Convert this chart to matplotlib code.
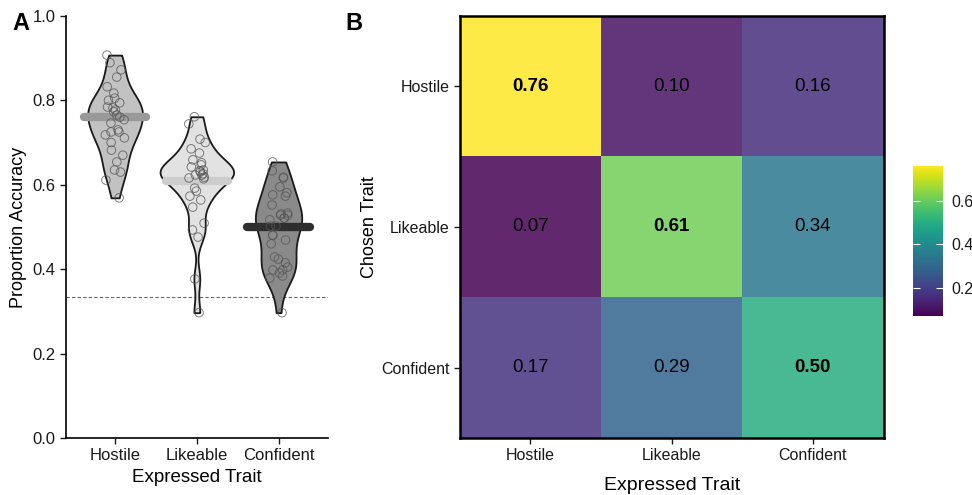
import numpy as np
import matplotlib
matplotlib.use("Agg")
import matplotlib.pyplot as plt

plt.rcParams['font.family'] = ['Liberation Sans', 'DejaVu Sans']

traits = ["Hostile", "Likeable", "Confident"]

# per-participant accuracy for each expressed trait
hostile_acc = [0.907, 0.889, 0.872, 0.855, 0.832, 0.817, 0.805, 0.800, 0.794, 0.784,
               0.782, 0.777, 0.773, 0.765, 0.760, 0.754, 0.746, 0.730, 0.725, 0.725,
               0.718, 0.711, 0.700, 0.682, 0.670, 0.654, 0.635, 0.630, 0.611, 0.569]
likeable_acc = [0.761, 0.744, 0.708, 0.700, 0.685, 0.675, 0.659, 0.652, 0.647, 0.642,
                0.635, 0.633, 0.630, 0.626, 0.623, 0.623, 0.618, 0.616, 0.614, 0.592,
                0.585, 0.573, 0.564, 0.547, 0.509, 0.493, 0.476, 0.377, 0.297]
confident_acc = [0.654, 0.633, 0.618, 0.616, 0.595, 0.581, 0.576, 0.573, 0.552, 0.533,
                 0.531, 0.528, 0.528, 0.521, 0.521, 0.517, 0.502, 0.502, 0.481, 0.480,
                 0.469, 0.460, 0.429, 0.424, 0.415, 0.405, 0.398, 0.398, 0.391, 0.384,
                 0.379, 0.297]

# confusion matrix: rows = chosen trait, columns = expressed trait
confusion = [[0.76, 0.10, 0.16],
             [0.07, 0.61, 0.34],
             [0.17, 0.29, 0.50]]

chance = 1 / 3

fill_cols = ["#c2c2c2", "#e2e2e2", "#8a8a8a"]
mean_cols = ["#999999", "#cdcdcd", "#2e2e2e"]


def kde(x, grid):
    x = np.asarray(x)
    n = len(x)
    iqr = np.subtract(*np.percentile(x, [75, 25]))
    bw = 0.9 * min(np.std(x, ddof=1), iqr / 1.34) * n ** -0.2
    d = np.exp(-0.5 * ((grid[:, None] - x[None, :]) / bw) ** 2).sum(axis=1)
    return d / (n * bw * np.sqrt(2 * np.pi))


fig = plt.figure(figsize=(9.72, 4.95), dpi=100)
axA = fig.add_axes([0.068, 0.115, 0.269, 0.853])
axB = fig.add_axes([0.473, 0.115, 0.436, 0.853])
cax = fig.add_axes([0.939, 0.362, 0.031, 0.303])

# ---- panel A: violins + jittered points + mean bar
groups = [hostile_acc, likeable_acc, confident_acc]
dens = []
for vals in groups:
    g = np.linspace(min(vals), max(vals), 200)
    dens.append((g, kde(vals, g)))
scale = 0.45 / max(d.max() for _, d in dens)

rng = np.random.default_rng(3)
for i, (vals, (g, d)) in enumerate(zip(groups, dens)):
    pos = i + 1
    w = d * scale
    axA.fill_betweenx(g, pos - w, pos + w, facecolor=fill_cols[i],
                      edgecolor="#1a1a1a", linewidth=1.3, zorder=2)
    xj = pos + rng.uniform(-0.12, 0.12, len(vals))
    axA.scatter(xj, vals, s=38, facecolors="none", edgecolors="#555555",
                linewidths=0.7, alpha=0.75, zorder=4)
    axA.hlines(confusion[i][i], pos - 0.38, pos + 0.38, color=mean_cols[i],
               linewidth=6, capstyle="round", zorder=3)

axA.axhline(chance, color="#666666", linestyle=(0, (3, 2)), linewidth=0.8, zorder=1)
axA.set_xlim(0.4, 3.6)
axA.set_ylim(0, 1.0)
axA.set_xticks([1, 2, 3])
axA.set_xticklabels(traits)
axA.set_yticks([0, 0.2, 0.4, 0.6, 0.8, 1.0])
axA.set_yticklabels(["0.0", "0.2", "0.4", "0.6", "0.8", "1.0"])
axA.spines[["top", "right"]].set_visible(False)
for s in ["left", "bottom"]:
    axA.spines[s].set_linewidth(1.2)
axA.tick_params(labelsize=12, length=4, width=1, colors="#1a1a1a")
axA.set_ylabel("Proportion Accuracy", fontsize=13)
axA.set_xlabel("Expressed Trait", fontsize=13.5)

# ---- panel B: heatmap
cm = np.array(confusion)
im = axB.imshow(cm, cmap="viridis", vmin=cm.min(), vmax=cm.max(),
                aspect="auto", extent=[0.5, 3.5, 3.5, 0.5], alpha=0.85)
for r in range(3):
    for c in range(3):
        axB.text(c + 1, r + 1, f"{cm[r, c]:.2f}", ha="center", va="center",
                 fontsize=13.5, color="black",
                 fontweight="bold" if r == c else "normal")
axB.set_xticks([1, 2, 3])
axB.set_xticklabels(traits)
axB.set_yticks([1, 2, 3])
axB.set_yticklabels(traits)
for s in axB.spines.values():
    s.set_linewidth(1.8)
axB.tick_params(labelsize=11.5, length=4, width=1, colors="#1a1a1a")
axB.set_xlabel("Expressed Trait", fontsize=14, labelpad=10)
axB.set_ylabel("Chosen Trait", fontsize=13, labelpad=2)

cb = fig.colorbar(im, cax=cax, ticks=[0.2, 0.4, 0.6])
cb.solids.set_alpha(1)
cb.outline.set_visible(False)
cax.tick_params(direction="in", length=5, width=0.8, color="white",
                left=True, right=True, labelsize=11.5, labelcolor="#1a1a1a", pad=6)

fig.text(0.013, 0.952, "A", fontsize=17, fontweight="bold", va="center")
fig.text(0.355, 0.952, "B", fontsize=17, fontweight="bold", va="center")

fig.savefig("out.png", dpi=100)
